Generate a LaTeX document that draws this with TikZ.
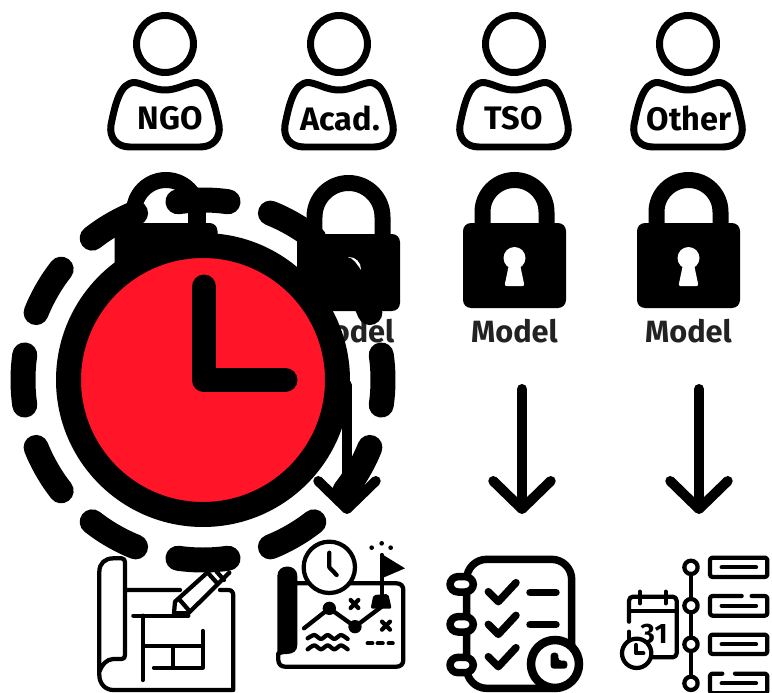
\documentclass[tikz,border=0pt]{standalone}
\usepackage{fontspec}
\setmainfont{Fira Sans}
\usepackage{amsmath}
\usetikzlibrary{arrows.meta, positioning, calc}
\definecolor{clockred}{HTML}{FF1428}
\definecolor{modeltext}{HTML}{222222}

\begin{document}
\begin{tikzpicture}[x=0.02cm, y=-0.02cm,
  usertext/.style={font=\fontsize{18.5}{20}\selectfont\bfseries, inner sep=0pt},
  modellabel/.style={font=\fontsize{17.5}{20}\selectfont\bfseries, text=modeltext, inner sep=0pt},
  outline/.style={draw, line width=0.14cm, line join=round},
  shackle/.style={draw, line width=0.32cm},
  lockbody/.style={fill, rounded corners=0.16cm},
  flowline/.style={draw, line width=0.2cm, line cap=round, -{Straight Barb[round,length=0.56cm,width=1.15cm]}},
  thinicon/.style={draw, line width=0.085cm, line cap=round, line join=round},
  heavyicon/.style={draw, line width=0.15cm, line cap=round, line join=round},
  ringdash/.style={draw, line width=0.5cm, line cap=round}]
\useasboundingbox (0,0) rectangle (772,693);

% users
\foreach \name/\cx/\tx in {NGO/165/170, Acad./339/340, TSO/514/513.5, Other/688/689} {
  \begin{scope}[shift={(\cx,0)}]
    \draw[outline] (0,44) circle [radius=28.5];
    \draw[outline] (0,90) .. controls (-12,90) and (-20,84) .. (-30,82.5)
      .. controls (-45,82) and (-50,105) .. (-54,125)
      .. controls (-56,138) and (-48,147) .. (-35,147) -- (35,147)
      .. controls (48,147) and (56,138) .. (54,125)
      .. controls (50,105) and (45,82) .. (30,82.5)
      .. controls (20,84) and (12,90) .. cycle;
  \end{scope}
  \node[usertext] (user\name) at (\tx,118) {\name};
}

% locks
\foreach \name/\cx/\dy in {NGO/166/0, TSO/514.5/0, Other/688.5/0} {
  \begin{scope}[shift={(\cx,\dy)}]
    \draw[shackle] (-32,230) -- (-32,212) arc [start angle=180, end angle=360, radius=32] -- (32,230);
    \fill[lockbody] (-51.5,223) rectangle (51.5,308);
    \fill[white, rounded corners=0.04cm] (-5,262) -- (-10,286) -- (10,286) -- (5,262) -- cycle;
    \fill[white] (0,258) circle [radius=11];
  \end{scope}
}
\draw[shackle] (314.5,240) -- (314.5,217) arc [start angle=180, end angle=360, radius=34] -- (382.5,240);
\fill[lockbody] (297,234) rectangle (400,311);
\fill[white] (349,269) circle [radius=12];

% model labels
\node[modellabel] (modelAcad) at (351,331) {Model};
\node[modellabel] (modelTSO) at (514.5,331) {Model};
\node[modellabel] (modelOther) at (688.5,331) {Model};

% arrows
\coordinate (acadStart) at (347,385);
\coordinate (acadEnd) at (347,514);
\coordinate (tsoStart) at (522,389);
\coordinate (tsoEnd) at (522,514);
\coordinate (otherStart) at (699,389);
\coordinate (otherEnd) at (699,514);
\path[flowline] (acadStart) -- (acadEnd);
\path[flowline] (tsoStart) -- (tsoEnd);
\path[flowline] (otherStart) -- (otherEnd);

% blueprint
\begin{scope}[shift={(80,530)}, scale=1/3]
  \draw[thinicon] (135,180) -- (300,180) (420,180) -- (445,180)
    .. controls (455,180) and (460,187) .. (460,197) -- (460,480) -- (100,480)
    .. controls (75,480) and (58,460) .. (58,435) -- (58,125)
    .. controls (58,100) and (75,85) .. (100,85) -- (125,85)
    .. controls (132,85) and (135,90) .. (135,97) -- (135,375)
    .. controls (135,383) and (132,387) .. (125,387) -- (100,387)
    .. controls (80,387) and (65,405) .. (58,425);
  \draw[thinicon] (285,215) -- (385,125) (325,250) -- (448,128)
    (285,215) -- (282,250) -- (325,250)
    (297,207) -- (330,245) (385,130) -- (412,160) (410,125) -- (432,150);
  \draw[thinicon] (160,257) -- (325,257) (188,257) -- (188,450)
    (190,347) -- (365,347) (368,303) -- (368,413) -- (222,413) (278,350) -- (278,410);
\end{scope}

% map
\begin{scope}[shift={(80,530)}, scale=1/3]
  \draw[thinicon] (650,160) -- (950,160)
    .. controls (962,160) and (970,168) .. (970,180) -- (970,390)
    .. controls (970,402) and (962,410) .. (950,410) -- (615,410)
    .. controls (603,410) and (595,402) .. (595,390) -- (595,370);
  \fill (592,385) -- (592,138) .. controls (592,100) and (652,100) .. (652,138) -- (652,345)
    .. controls (652,362) and (640,372) .. (620,372) .. controls (605,372) and (595,375) .. (592,385) -- cycle;
  \draw[thinicon, fill=white] (748,112) circle [radius=77];
  \draw[thinicon] (748,68) -- (748,112) -- (770,135);
  \draw[thinicon] (905,75) -- (905,200);
  \fill (905,72) -- (975,115) -- (905,145) -- cycle;
  \fill[rounded corners=0.04cm] (872,236) -- (880,195) -- (925,192) -- (935,236) -- cycle;
  \fill (875,53) circle [radius=7] (905,40) circle [radius=7] (932,53) circle [radius=7];
  \draw[thinicon] (672,295) -- (748,235) -- (825,290) -- (905,230);
  \fill (748,235) circle [radius=20] (825,290) circle [radius=20];
  \draw[thinicon] (812,210) -- (835,234) (835,210) -- (812,234)
    (906,275) -- (930,299) (930,275) -- (906,299);
  \draw[thinicon] plot [smooth] coordinates {(683,325) (703,315) (723,327) (743,315) (763,327) (783,315) (803,327)};
  \draw[thinicon] plot [smooth] coordinates {(683,358) (703,346) (723,358) (743,346) (763,358) (783,346) (803,358)};
  \draw[thinicon] (863,340) -- (877,340) (893,340) -- (908,340) (926,340) -- (938,340);
\end{scope}

% checklist
\begin{scope}[shift={(430,540)}, scale=1/3]
  \draw[heavyicon, rounded corners=0.4cm] (110,445) rectangle (425,58);
  \foreach \y in {133,253,375} {
    \draw[heavyicon, fill=white, rounded corners=0.16cm] (60,\y-23) rectangle (130,\y+23);
  }
  \foreach \y in {0,98,195} {
    \draw[heavyicon] (175,155+\y) -- (205,185+\y) -- (258,128+\y);
  }
  \draw[heavyicon] (300,157) -- (378,157) (300,254) -- (378,254);
  \draw[line width=0.17cm, fill=white, draw=black] (375,372) circle [radius=72];
  \fill[rounded corners=0.06cm] (362,338) -- (385,338) -- (385,362) -- (412,362) -- (412,386) -- (362,386) -- cycle;
\end{scope}

% timeline
\begin{scope}[shift={(430,540)}, scale=1/3]
  \draw[thinicon, rounded corners=0.08cm] (597,245) -- (597,170) -- (740,170) -- (740,352) -- (662,352);
  \draw[thinicon] (597,275) -- (597,300) (600,212) -- (740,212)
    (630,155) -- (630,190) (707,155) -- (707,190);
  \node[font=\fontsize{16}{18}\selectfont\bfseries, inner sep=0pt] (calDate) at (672,283) {31};
  \draw[thinicon, fill=white] (620,340) circle [radius=44];
  \draw[thinicon] (618,315) -- (618,340) -- (640,340);
  \draw[thinicon] (783,82) -- (783,430);
  \foreach \y in {82,197,313,430} {
    \draw[thinicon, fill=white] (783,\y) circle [radius=20];
  }
  \foreach \y in {82,313} {
    \draw[thinicon, rounded corners=0.05cm] (840,\y-29) rectangle (1012,\y+29);
    \draw[thinicon] (875,\y) -- (978,\y);
  }
  \draw[thinicon, rounded corners=0.05cm] (935,168) -- (840,168) -- (840,227) -- (1012,227) -- (1012,168) -- (965,168);
  \draw[thinicon] (875,197) -- (978,197);
  \draw[thinicon, rounded corners=0.05cm] (877,401) -- (840,401) -- (840,460) -- (1012,460) -- (1012,401) -- (915,401);
  \draw[thinicon] (875,430) -- (978,430);
\end{scope}

% stopwatch
\begin{scope}[shift={(203,380)}]
  \fill (-15,-168) rectangle (3,-130);
  \foreach \a in {0,30,...,330} {
    \draw[ringdash] ({\a-8}:180) arc [start angle=\a-8, end angle=\a+8, radius=180];
  }
  \draw[line width=0.5cm, fill=clockred] (0,0) circle [radius=134.5];
  \draw[line width=0.5cm, line cap=round, line join=round] (1,-93) -- (1,0) -- (82,0);
\end{scope}
\end{tikzpicture}
\end{document}
